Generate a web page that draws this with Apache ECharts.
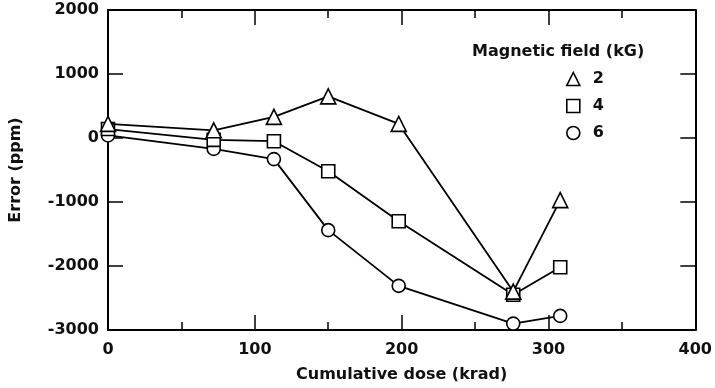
<!DOCTYPE html>
<html>
<head>
<meta charset="utf-8">
<script src="https://cdn.jsdelivr.net/npm/echarts@6/dist/echarts.min.js"></script>
<style>
    html, body { margin: 0; padding: 0; background: #fff; }
    #chart { width: 715px; height: 388px; }
</style>
</head>
<body>
<div id="chart"></div>
<script>
    // dose (krad) for each point
    let doses = [0, 72, 113, 150, 198, 276, 308];
    // error (ppm) per magnetic field
    let err2 = [220, 120, 330, 650, 220, -2400, -970];
    let err4 = [140, -30, -50, -520, -1300, -2450, -2020];
    let err6 = [40, -170, -330, -1440, -2310, -2900, -2780];
    let fields = ['2', '4', '6'];
    let symbols = ['triangle', 'rect', 'circle'];
    let xTicks = [0, 400, 100];      // min, max, interval
    let yTicks = [-3000, 2000, 1000];

    let font = 'DejaVu Sans';

    function pairs(xs, ys) {
        return xs.map((x, i) => [x, ys[i]]);
    }

    function frameAxis(pos, range, minor) {
        return {
            type: 'value',
            position: pos,
            min: range[0],
            max: range[1],
            interval: range[2],
            axisLine: { show: true, onZero: false, lineStyle: { color: '#000', width: 2 } },
            axisTick: { show: true, inside: true, length: 15, lineStyle: { color: '#000', width: 1.5 } },
            minorTick: { show: minor, splitNumber: 2, length: 8, lineStyle: { color: '#000', width: 1.5 } },
            axisLabel: { show: false },
            splitLine: { show: false }
        };
    }

    let myChart = echarts.init(document.getElementById('chart'));

    let labelStyle = { fontFamily: font, fontWeight: 'bold', fontSize: 16, color: '#111' };

    let xMain = frameAxis('bottom', xTicks, true);
    xMain.name = 'Cumulative dose (krad)';
    xMain.nameLocation = 'middle';
    xMain.nameGap = 37;
    xMain.nameTextStyle = labelStyle;
    xMain.axisLabel = Object.assign({ show: true, margin: 12, formatter: v => String(v) }, labelStyle);

    let yMain = frameAxis('left', yTicks, false);
    yMain.name = 'Error (ppm)';
    yMain.nameLocation = 'middle';
    yMain.nameGap = 84;
    yMain.nameTextStyle = labelStyle;
    yMain.axisLabel = Object.assign({ show: true, margin: 9, formatter: v => String(v) }, labelStyle);

    let series = [err2, err4, err6].map((vals, i) => ({
        name: fields[i],
        type: 'line',
        data: pairs(doses, vals),
        symbol: symbols[i],
        symbolSize: i === 0 ? 15 : 13,
        lineStyle: { color: '#000', width: 1.8 },
        itemStyle: { color: '#fff', borderColor: '#000', borderWidth: 1.6 },
        z: 3 - i,
        animation: false
    }));

    let option = {
        backgroundColor: '#fff',
        animation: false,
        grid: { left: 106, right: 15, top: 10, bottom: 58 },
        title: {
            text: 'Magnetic field (kG)',
            left: 472,
            top: 44,
            padding: 0,
            textStyle: labelStyle
        },
        legend: {
            orient: 'vertical',
            left: 566,
            top: 71,
            padding: 0,
            itemWidth: 13,
            itemHeight: 13,
            itemGap: 11,
            data: fields.map((f, i) => ({ name: f, icon: symbols[i] })),
            itemStyle: { color: '#fff', borderColor: '#000', borderWidth: 1.6 },
            textStyle: Object.assign({ padding: [0, 0, 0, 8] }, labelStyle)
        },
        xAxis: [xMain, frameAxis('top', xTicks, true)],
        yAxis: [yMain, frameAxis('right', yTicks, false)],
        series: series
    };

    myChart.setOption(option);
</script>
</body>
</html>
